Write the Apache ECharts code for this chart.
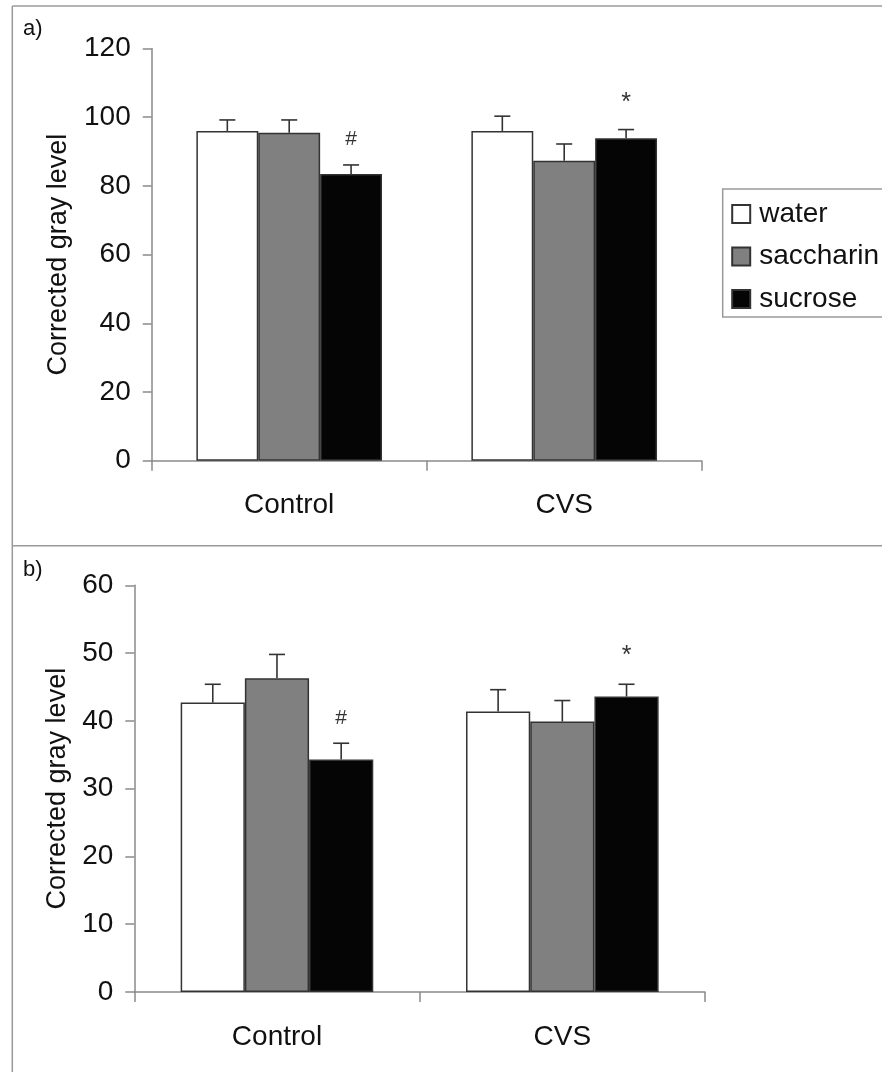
<!DOCTYPE html>
<html>
<head>
<meta charset="utf-8">
<script src="https://cdn.jsdelivr.net/npm/echarts@6/dist/echarts.min.js"></script>
<style>
html,body{margin:0;padding:0;background:#fff;}
#chart{width:882px;height:1072px;}
</style>
</head>
<body>
<div id="chart"></div>
<script>
// ---- data ----
const categories = ['Control', 'CVS'];
const seriesNames = ['water', 'saccharin', 'sucrose'];
const yTitle = 'Corrected gray level';
const panelLabels = ['a)', 'b)'];

// panel a
const aWater = [96.0, 96.0];
const aSaccharin = [95.5, 87.3];
const aSucrose = [83.5, 93.9];
const aWaterErr = [3.2, 4.3];
const aSaccharinErr = [3.7, 4.9];
const aSucroseErr = [2.6, 2.5];
const aTicks = { min: 0, max: 120, interval: 20 };
// annotations: [categoryIndex, seriesIndex, yPosition, text]
const aMarks = [[0, 2, 93.5, '#'], [1, 2, 104.0, '*']];

// panel b
const bWater = [42.7, 41.4];
const bSaccharin = [46.3, 39.9];
const bSucrose = [34.3, 43.6];
const bWaterErr = [2.7, 3.2];
const bSaccharinErr = [3.5, 3.1];
const bSucroseErr = [2.4, 1.8];
const bTicks = { min: 0, max: 60, interval: 10 };
const bMarks = [[0, 2, 40.4, '#'], [1, 2, 49.6, '*']];

// ---- styles ----
const FONT = 'Liberation Sans, Arial, sans-serif';
const fills = ['#ffffff', '#808080', '#050505'];
const BAR_FRAC = 0.225;
const axisGray = '#8a8a8a';

const chart = echarts.init(document.getElementById('chart'), null, { renderer: 'canvas' });

function errSeries(idx, vals, errs) {
  const data = [];
  vals.forEach((arr, s) => {
    arr.forEach((v, c) => data.push([c, v + errs[s][c], v, s]));
  });
  return {
    type: 'custom', xAxisIndex: idx, yAxisIndex: idx, z: 5, silent: true,
    encode: { x: 0, y: 1 },
    data: data,
    renderItem: function (params, api) {
      const c = api.value(0), top = api.value(1), base = api.value(2), s = api.value(3);
      const band = api.size([1, 0])[0];
      const bw = band * BAR_FRAC;
      const xc = api.coord([c, 0])[0] + (s - 1) * bw;
      const yTop = api.coord([c, top])[1];
      const yBase = api.coord([c, base])[1];
      const cap = 8;
      const st = { stroke: '#333', lineWidth: 1.6 };
      return {
        type: 'group',
        children: [
          { type: 'line', shape: { x1: xc, y1: yBase, x2: xc, y2: yTop }, style: st },
          { type: 'line', shape: { x1: xc - cap, y1: yTop, x2: xc + cap, y2: yTop }, style: st }
        ]
      };
    }
  };
}

function markSeries(idx, marks) {
  return {
    type: 'custom', xAxisIndex: idx, yAxisIndex: idx, z: 6, silent: true,
    encode: { x: 0, y: 2 },
    data: marks,
    renderItem: function (params, api) {
      const c = api.value(0), s = api.value(1), y = api.value(2);
      const band = api.size([1, 0])[0];
      const bw = band * BAR_FRAC;
      const p = api.coord([c, y]);
      const txt = marks[params.dataIndex][3];
      const size = txt === '*' ? 25 : 21;
      return {
        type: 'text',
        style: {
          x: p[0] + (s - 1) * bw, y: p[1], text: txt,
          align: 'center', verticalAlign: 'middle',
          font: size + 'px ' + FONT, fill: '#333'
        }
      };
    }
  };
}

function barSeries(idx, vals) {
  return vals.map((arr, s) => ({
    type: 'bar', name: seriesNames[s], xAxisIndex: idx, yAxisIndex: idx,
    data: arr, barWidth: (BAR_FRAC * 100) + '%', barGap: '0%',
    itemStyle: { color: fills[s], borderColor: '#333', borderWidth: 1.5 },
    emphasis: { disabled: true }, z: 2
  }));
}

function xAxisDef(idx) {
  return {
    type: 'category', gridIndex: idx, data: categories,
    axisLine: { lineStyle: { color: axisGray, width: 1.5 } },
    axisTick: { show: true, length: 10, lineStyle: { color: axisGray, width: 1.5 } },
    axisLabel: { fontFamily: FONT, fontSize: 28, color: '#111', margin: 31 },
    splitLine: { show: false }
  };
}

function yAxisDef(idx, t, gap) {
  return {
    type: 'value', gridIndex: idx, min: t.min, max: t.max, interval: t.interval,
    name: yTitle, nameLocation: 'middle', nameGap: gap, nameRotate: 90,
    nameTextStyle: { fontFamily: FONT, fontSize: 27, color: '#111' },
    axisLine: { show: true, lineStyle: { color: axisGray, width: 1.5 } },
    axisTick: { show: true, length: 9, lineStyle: { color: axisGray, width: 1.5 } },
    axisLabel: { fontFamily: FONT, fontSize: 28, color: '#111', margin: 21 },
    splitLine: { show: false }
  };
}

const frameStyle = { stroke: '#9a9a9a', lineWidth: 1.5 };

const option = {
  backgroundColor: '#fff',
  animation: false,
  grid: [
    { left: 151.7, right: 180.3, top: 48.5, bottom: 611.3 },
    { left: 134.3, right: 177, top: 585.3, bottom: 80 }
  ],
  xAxis: [xAxisDef(0), xAxisDef(1)],
  yAxis: [yAxisDef(0, aTicks, 80), yAxisDef(1, bTicks, 63)],
  legend: {
    data: seriesNames,
    orient: 'vertical',
    left: 722.7, top: 189,
    padding: [11, 30, 4, 8.5],
    itemWidth: 26, itemHeight: 18, itemGap: 14.5,
    icon: 'path://M0,0L10,0L10,10L0,10Z',
    borderColor: '#9a9a9a', borderWidth: 1.5,
    textStyle: { fontFamily: FONT, fontSize: 28, color: '#111' },
    selectedMode: false
  },
  graphic: [
    { type: 'line', shape: { x1: 12.3, y1: 6, x2: 900, y2: 6 }, style: frameStyle, silent: true },
    { type: 'line', shape: { x1: 12.3, y1: 6, x2: 12.3, y2: 1080 }, style: frameStyle, silent: true },
    { type: 'line', shape: { x1: 12.3, y1: 545.8, x2: 900, y2: 545.8 }, style: frameStyle, silent: true },
    { type: 'text', left: 23, top: 18, style: { text: panelLabels[0], font: '22px ' + FONT, fill: '#111' }, silent: true },
    { type: 'text', left: 23, top: 559, style: { text: panelLabels[1], font: '22px ' + FONT, fill: '#111' }, silent: true }
  ],
  series: [].concat(
    barSeries(0, [aWater, aSaccharin, aSucrose]),
    barSeries(1, [bWater, bSaccharin, bSucrose]),
    [
      errSeries(0, [aWater, aSaccharin, aSucrose], [aWaterErr, aSaccharinErr, aSucroseErr]),
      errSeries(1, [bWater, bSaccharin, bSucrose], [bWaterErr, bSaccharinErr, bSucroseErr]),
      markSeries(0, aMarks),
      markSeries(1, bMarks)
    ]
  )
};

chart.setOption(option);
</script>
</body>
</html>
